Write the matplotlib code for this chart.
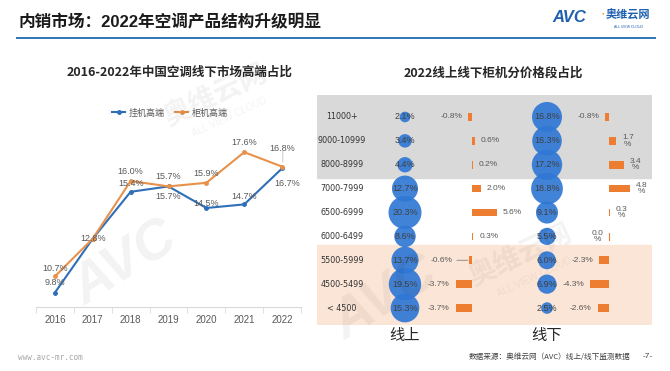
import matplotlib.pyplot as plt
import numpy as np

plt.rcParams['font.family'] = ['Liberation Sans', 'Noto Sans CJK SC', 'DejaVu Sans']

W, H = 670, 371

# left chart data
years = ['2016', '2017', '2018', '2019', '2020', '2021', '2022']
wall_high = [9.8, 12.8, 15.4, 15.7, 14.5, 14.7, 16.7]    # 挂机高端
floor_high = [10.7, 12.8, 16.0, 15.7, 15.9, 17.6, 16.8]  # 柜机高端

# right chart data
price_bands = ['11000+', '9000-10999', '8000-8999', '7000-7999', '6500-6999',
               '6000-6499', '5500-5999', '4500-5499', '< 4500']
online_share = [2.1, 3.4, 4.4, 12.7, 20.3, 8.6, 13.7, 19.5, 15.3]
online_chg = [-0.8, 0.6, 0.2, 2.0, 5.6, 0.3, -0.6, -3.7, -3.7]
offline_share = [16.8, 16.3, 17.2, 18.8, 9.1, 5.5, 6.0, 6.9, 2.5]
offline_chg = [-0.8, 1.7, 3.4, 4.8, 0.3, 0.0, -2.3, -4.3, -2.6]

BLUE = '#2E6FB7'
ORANGE = '#E8914B'
BUB = '#2F78D4'
BAR = '#ED7D31'
GREY = '#595959'


def rect(x0, y0, x1, y1):
    return [x0 / W, 1 - y1 / H, (x1 - x0) / W, (y1 - y0) / H]


fig = plt.figure(figsize=(W / 100, H / 100), dpi=100)

# header
fig.text(18 / W, 1 - 22 / H, '内销市场：2022年空调产品结构升级明显', fontsize=12,
         fontweight='bold', color='#1a1a1a', va='center', ha='left')
fig.add_artist(plt.Line2D([17 / W, 655 / W], [1 - 38 / H, 1 - 38 / H],
                          color='#2E75B6', lw=1.4))
fig.text(569 / W, 1 - 17 / H, 'AVC', fontsize=12, fontweight='bold', fontstyle='italic',
         color='#1F5FAF', ha='center', va='center')
fig.text(603 / W, 1 - 13 / H, '●', fontsize=3, color='#F0A030', ha='center', va='center')
fig.text(628 / W, 1 - 15 / H, '奥维云网', fontsize=8, fontweight='bold',
         color='#1F5FAF', ha='center', va='center', family=['Noto Sans CJK SC'])
fig.text(628 / W, 1 - 27 / H, 'ALL VIEW CLOUD', fontsize=2.5, color='#1F5FAF',
         ha='center', va='center')

# watermarks
for (x, y, s, r) in [(125, 265, 'AVC', 32), (385, 300, 'AVC', 32)]:
    fig.text(x / W, 1 - y / H, s, fontsize=40, fontweight='bold', fontstyle='italic',
             color='#000000', alpha=0.05, ha='center', va='center', rotation=r)
for (x, y) in [(215, 95), (520, 255)]:
    fig.text(x / W, 1 - y / H, '奥维云网', fontsize=20, fontweight='bold', color='#000000',
             alpha=0.05, ha='center', va='center', rotation=25,
             family=['Noto Sans CJK SC'])
    fig.text((x + 15) / W, 1 - (y + 22) / H, 'ALL VIEW CLOUD', fontsize=7, color='#000000',
             alpha=0.05, ha='center', va='center', rotation=25)

# ---------------- left line chart ----------------
fig.text(180 / W, 1 - 72 / H, '2016-2022年中国空调线下市场高端占比', fontsize=9,
         fontweight='bold', color='#262626', ha='center', va='center',
         family=['Noto Sans CJK SC', 'DejaVu Sans'])

ax1 = fig.add_axes(rect(36, 127, 301, 307))
x = np.arange(len(years))
ax1.plot(x, wall_high, color=BLUE, lw=1.5, marker='o', ms=2.5, label='挂机高端')
ax1.plot(x, floor_high, color=ORANGE, lw=1.5, marker='o', ms=2.5, label='柜机高端')
ax1.set_xlim(-0.5, 6.5)
ax1.set_ylim(9, 19)
ax1.set_yticks([])
ax1.set_xticks(x)
ax1.set_xticklabels(years, fontsize=7, color=GREY)
ax1.set_xticks(np.arange(-0.5, 7, 1), minor=True)
ax1.tick_params(axis='x', which='major', length=0, pad=6)
ax1.tick_params(axis='x', which='minor', length=4, color='#D9D9D9')
for s in ['top', 'right', 'left']:
    ax1.spines[s].set_visible(False)
ax1.spines['bottom'].set_color('#D9D9D9')
ax1.patch.set_alpha(0)

# label offsets (points): orange above, blue mostly above
off_floor = [6, 0, 7, 7, 7, 7, 13]
off_wall = [7, 7, 6, -7, 3, 6, -11]
for i in range(len(years)):
    ax1.annotate(f'{floor_high[i]:.1f}%', (x[i], floor_high[i]), xytext=(0, off_floor[i]),
                 textcoords='offset points', ha='center', va='center', fontsize=6.5,
                 color=GREY)
    if i == 1:
        continue
    dx = 4 if i == 6 else 0
    ax1.annotate(f'{wall_high[i]:.1f}%', (x[i], wall_high[i]), xytext=(dx, off_wall[i]),
                 textcoords='offset points', ha='center', va='center', fontsize=6.5,
                 color=GREY)
ax1.annotate('', (x[6] + 0.02, floor_high[6] + 0.1), xytext=(x[6] + 0.02, floor_high[6] + 1.0),
             arrowprops=dict(arrowstyle='-', color='#BFBFBF', lw=0.6))

leg = ax1.legend(loc='center', bbox_to_anchor=(170 / W, 1 - 113 / H),
                 bbox_transform=fig.transFigure, ncol=2, frameon=False, fontsize=6.5,
                 handlelength=1.4, columnspacing=1.2, handletextpad=0.4,
                 prop={'family': ['Noto Sans CJK SC'], 'size': 6.5})
for t in leg.get_texts():
    t.set_color(GREY)

fig.text(18 / W, 1 - 357 / H, 'www.avc-mr.com', fontsize=5.5, color='#A6A6A6',
         family=['DejaVu Sans Mono'], ha='left', va='center')

# ---------------- right bubble / bar chart ----------------
fig.text(493 / W, 1 - 73 / H, '2022线上线下柜机分价格段占比', fontsize=9,
         fontweight='bold', color='#262626', ha='center', va='center',
         family=['Noto Sans CJK SC', 'DejaVu Sans'])

Y0, Y1 = 95, 325
ylim = (8.71, -0.92)
rows = np.arange(len(price_bands))

ax2 = fig.add_axes(rect(317, Y0, 652, Y1))
ax2.set_xlim(317, 652)
ax2.set_ylim(*ylim)
ax2.axis('off')
ax2.axhspan(-0.92, 2.55, color='#D9D9D9', zorder=0)
ax2.axhspan(5.36, 8.71, color='#FBE5D6', zorder=0)
for r, lab in zip(rows, price_bands):
    ax2.text(342, r, lab, fontsize=5.8, color='#333333', ha='center', va='center',
             family=['DejaVu Sans'])

col_on, col_off = 405, 547
k = 27.8
ax2.scatter([col_on] * len(rows), rows, s=np.array(online_share) * k, color=BUB,
            alpha=0.92, edgecolors='none', zorder=2, clip_on=False)
ax2.scatter([col_off] * len(rows), rows, s=np.array(offline_share) * k, color=BUB,
            alpha=0.92, edgecolors='none', zorder=2, clip_on=False)
for r in rows:
    ax2.text(col_on, r, f'{online_share[r]:.1f}%', fontsize=6.5, color='#404040',
             ha='center', va='center', zorder=3)
    ax2.text(col_off, r, f'{offline_share[r]:.1f}%', fontsize=6.5, color='#404040',
             ha='center', va='center', zorder=3)

ax2.text(col_on, 9.15, '线上', fontsize=11, color='#262626', ha='center', va='center',
         family=['Noto Sans CJK SC'], clip_on=False)
ax2.text(col_off, 9.15, '线下', fontsize=11, color='#262626', ha='center', va='center',
         family=['Noto Sans CJK SC'], clip_on=False)

px_per_pct = 4.4


def bar_axes(x0, x1, zero):
    a = fig.add_axes(rect(x0, Y0, x1, Y1))
    a.set_xlim(-(zero - x0) / px_per_pct, (x1 - zero) / px_per_pct)
    a.set_ylim(*ylim)
    a.axis('off')
    return a


ax_on = bar_axes(430, 505, 472)
ax_on.barh(rows, online_chg, height=0.32, color=BAR)
for r, v in zip(rows, online_chg):
    if v > 0:
        ax_on.annotate(f'{v:.1f}%', (v, r), xytext=(4.3, 0), textcoords='offset points',
                       ha='left', va='center', fontsize=6, color=GREY)
    elif r == 6:
        ax_on.annotate(f'{v:.1f}%', (v, r), xytext=(-12, 0), textcoords='offset points',
                       ha='right', va='center', fontsize=6, color=GREY,
                       arrowprops=dict(arrowstyle='-', color='#808080', lw=0.6,
                                       shrinkA=1, shrinkB=1))
    else:
        ax_on.annotate(f'{v:.1f}%', (v, r), xytext=(-4.3, 0), textcoords='offset points',
                       ha='right', va='center', fontsize=6, color=GREY)

ax_off = bar_axes(560, 650, 609)
ax_off.barh(rows, offline_chg, height=0.32, color=BAR)
for r, v in zip(rows, offline_chg):
    if v > 0:
        ax_off.annotate(f'{v:.1f}\n%', (v, r), xytext=(4, 0), textcoords='offset points',
                        ha='left', va='center', fontsize=6, color=GREY, linespacing=0.9,
                        multialignment='center')
    elif v == 0:
        ax_off.plot([0, 0], [r - 0.16, r + 0.16], color=BAR, lw=0.8)
        ax_off.annotate(f'{v:.1f}\n%', (v, r), xytext=(-4.3, 0), textcoords='offset points',
                        ha='right', va='center', fontsize=6, color=GREY, linespacing=0.9,
                        multialignment='center')
    else:
        ax_off.annotate(f'{v:.1f}%', (v, r), xytext=(-4.3, 0), textcoords='offset points',
                        ha='right', va='center', fontsize=6, color=GREY)

fig.text(550 / W, 1 - 357 / H, '数据来源：奥维云网（AVC）线上/线下监测数据', fontsize=5.5,
         color='#404040', ha='center', va='center', family=['Noto Sans CJK SC'])
fig.text(648 / W, 1 - 356 / H, '-7-', fontsize=6, color='#404040', ha='center', va='center')

fig.savefig('out.png', dpi=100)
